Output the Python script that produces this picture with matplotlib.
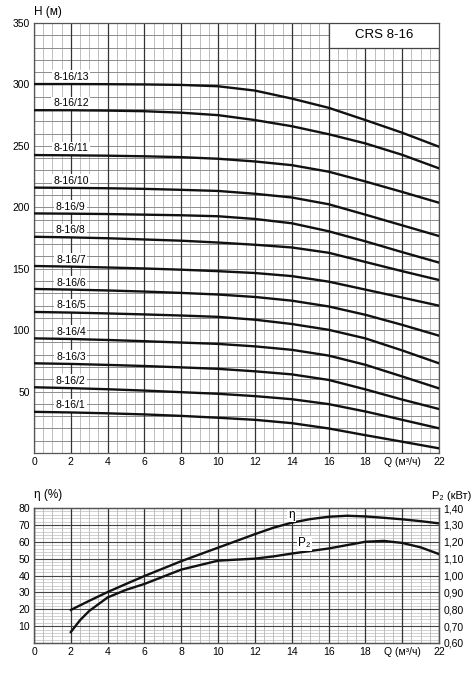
import numpy as np
import matplotlib
matplotlib.use('Agg')
import matplotlib.pyplot as plt
from matplotlib.ticker import FuncFormatter

plt.rcParams['font.family'] = ['Liberation Sans', 'DejaVu Sans']

# --- data ---
q = [0, 2, 4, 6, 8, 10, 12, 14, 16, 18, 20, 22]
stages = ['8-16/1', '8-16/2', '8-16/3', '8-16/4', '8-16/5', '8-16/6', '8-16/7',
          '8-16/8', '8-16/9', '8-16/10', '8-16/11', '8-16/12', '8-16/13']
h1 = [33.5, 33, 32.3, 31.4, 30.2, 28.7, 27, 24.3, 20, 14.5, 9.2, 3.8]
h2 = [53.5, 52.8, 51.9, 50.8, 49.5, 48.2, 46.3, 43.8, 39.8, 33.8, 27, 20.1]
h3 = [73, 72.5, 71.7, 70.8, 69.7, 68.5, 66.5, 64, 59.5, 51.8, 43.5, 35.8]
h4 = [93.3, 92.8, 92, 91, 89.9, 88.8, 86.8, 84, 79.3, 71.8, 62.3, 52.6]
h5 = [114.8, 114.3, 113.6, 112.8, 111.9, 110.8, 108.5, 105, 100.3, 93.3, 83.5, 73]
h6 = [133.5, 133, 132.3, 131.4, 130.3, 129, 127, 124, 119.3, 112.5, 104.3, 95.5]
h7 = [152.2, 151.7, 151, 150.2, 149.2, 148, 146.5, 144, 139.5, 133, 126.5, 119.9]
h8 = [176, 175.5, 174.8, 173.8, 172.8, 171.3, 169.5, 167.3, 163, 155.5, 148, 140.8]
h9 = [195, 194.8, 194.5, 194, 193.5, 192.7, 190.5, 187, 180.5, 172.3, 163.5, 155]
h10 = [216, 215.8, 215.5, 215, 214.2, 213.3, 211, 208, 202.5, 194, 185.3, 176.6]
h11 = [242.5, 242.3, 242, 241.5, 240.8, 239.5, 237.3, 234.3, 229, 221, 212.5, 203.7]
h12 = [279, 279, 278.7, 278.2, 277, 275, 271, 266, 259.5, 252, 242.7, 231.7]
h13 = [300.3, 300.3, 300.2, 300, 299.6, 298.5, 295, 288.5, 281, 271, 260.7, 249.3]
heads = [h1, h2, h3, h4, h5, h6, h7, h8, h9, h10, h11, h12, h13]

q2 = [2, 2.5, 3, 4, 5, 6, 8, 10, 12, 13, 14, 15, 16, 17, 18, 19, 20, 21, 22]
eta = [19.6, 22.3, 25, 30.2, 35, 39.7, 48.5, 56.5, 64.5, 68.3, 71.3, 73.4, 74.8, 75.4, 75, 74.2, 73.3, 72.2, 70.9]
p2 = [0.665, 0.735, 0.79, 0.87, 0.915, 0.95, 1.035, 1.088, 1.10, 1.113, 1.13, 1.145, 1.16, 1.18, 1.20, 1.205, 1.193, 1.167, 1.127]

xticks = [0, 2, 4, 6, 8, 10, 12, 14, 16, 18, 20, 22]
xlabels = ['0', '2', '4', '6', '8', '10', '12', '14', '16', '18', 'Q (м³/ч)', '22']

W, H = 475, 676
fig = plt.figure(figsize=(W / 100, H / 100), dpi=100)

def frac(l, t, r, b):
    return [l / W, 1 - b / H, (r - l) / W, (b - t) / H]

def grid_x(ax):
    for x in np.arange(0, 22.01, 0.5):
        if x % 2 == 0:
            ax.axvline(x, color='#333333', lw=0.9, zorder=1)
        else:
            ax.axvline(x, color='#b4b4b4', lw=0.6, zorder=0.5)

def style(ax):
    ax.tick_params(length=0, labelsize=7.5, pad=3)
    for s in ax.spines.values():
        s.set_color('#555555')
        s.set_linewidth(0.9)

# --- top chart: head curves ---
ax = fig.add_axes(frac(34, 23, 439, 453))
ax.set_xlim(0, 22)
ax.set_ylim(0, 350)
grid_x(ax)
for y in range(10, 350, 10):
    ax.axhline(y, color='#8c8c8c', lw=0.7, zorder=0.6)
for name, h in zip(stages, heads):
    ax.plot(q, h, color='#111111', lw=1.7, zorder=4)
    ax.annotate(name, (2.0, h[1]), xytext=(0, 1.5), textcoords='offset points',
                ha='center', va='bottom', fontsize=7.5, zorder=3,
                bbox=dict(boxstyle='square,pad=0.15', fc='white', ec='none'))
ax.set_xticks(xticks)
ax.set_xticklabels(xlabels)
ax.set_yticks([50, 100, 150, 200, 250, 300, 350])
style(ax)
ax.text(0, 1.012, 'H (м)', transform=ax.transAxes, fontsize=8.5, ha='left', va='bottom')
ax.add_patch(plt.Rectangle((16, 330), 6, 20, fc='white', ec='#444444', lw=0.9, zorder=5))
ax.text(19, 340, 'CRS 8-16', ha='center', va='center', fontsize=9.5, zorder=6)

# --- bottom chart: efficiency and power ---
bx = fig.add_axes(frac(34, 508, 439, 643))
bx.set_xlim(0, 22)
bx.set_ylim(0, 80)
grid_x(bx)
for y in range(2, 80, 2):
    if y % 10 == 0:
        bx.axhline(y, color='#444444', lw=0.8, zorder=0.8)
    else:
        bx.axhline(y, color='#bdbdbd', lw=0.5, zorder=0.6)
bx.plot(q2, eta, color='#111111', lw=1.7, zorder=4)
bx.set_xticks(xticks)
bx.set_xticklabels(xlabels)
bx.set_yticks(range(10, 81, 10))
style(bx)
bx.text(0, 1.05, 'η (%)', transform=bx.transAxes, fontsize=8.5, ha='left', va='bottom')
bx.text(14.0, 76, 'η', fontsize=8.5, ha='center', va='center', zorder=5,
        bbox=dict(boxstyle='square,pad=0.1', fc='white', ec='none'))

bx2 = bx.twinx()
bx2.set_ylim(0.6, 1.4)
bx2.plot(q2, p2, color='#111111', lw=1.7, zorder=4)
bx2.set_yticks(np.round(np.arange(0.6, 1.41, 0.1), 2))
bx2.yaxis.set_major_formatter(FuncFormatter(lambda v, p: ('%.2f' % v).replace('.', ',')))
style(bx2)
bx2.text(14.7, 1.19, 'P₂', fontsize=8.5, ha='center', va='center', zorder=5,
         bbox=dict(boxstyle='square,pad=0.1', fc='white', ec='none'))
bx2.text(1.08, 1.05, 'P₂ (кВт)', transform=bx2.transAxes, fontsize=8, ha='right', va='bottom')

plt.savefig('out.png', dpi=100)
